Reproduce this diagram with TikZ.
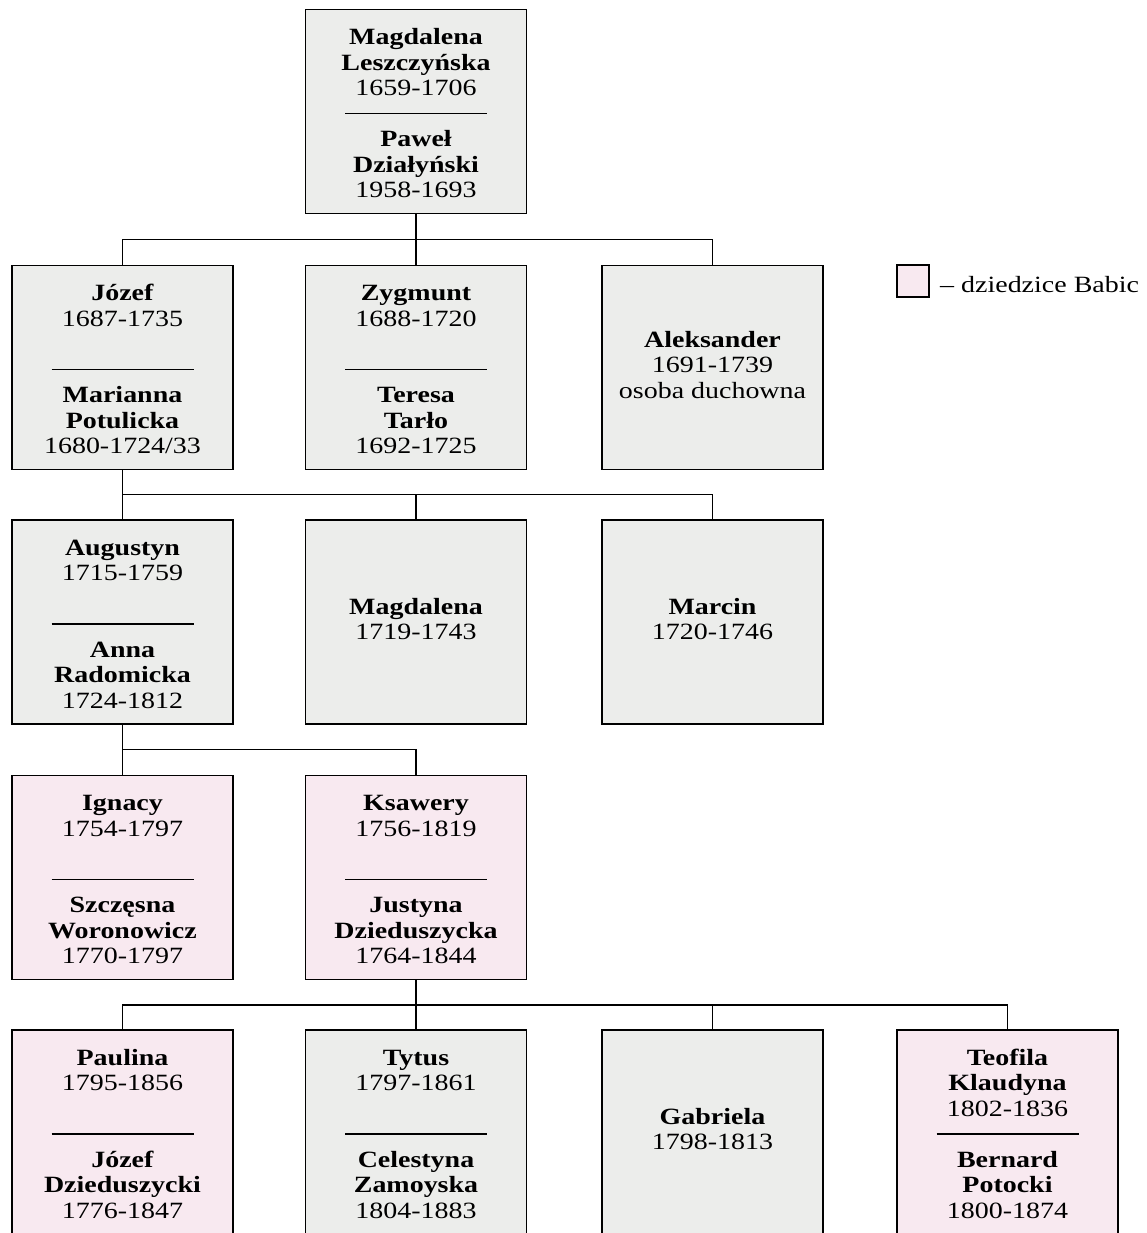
\documentclass[tikz,border=0pt]{standalone}
\usepackage{fontspec}
\setmainfont{Liberation Serif}[FakeStretch=1.2]
\usetikzlibrary{calc}
\definecolor{boxgrey}{HTML}{ECEDEB}
\definecolor{boxpink}{HTML}{F8E9F0}
\tikzset{
  person/.style={draw=black, line width=1.9pt, minimum width=221pt, minimum height=204pt, inner sep=0pt, outer sep=0pt},
  greybox/.style={person, fill=boxgrey},
  pinkbox/.style={person, fill=boxpink},
  txt/.style={align=center, inner sep=0pt, font=\fontsize{23.3}{25.5}\selectfont},
  toptext/.style={txt, anchor=north},
  bottext/.style={txt, anchor=south},
  midtext/.style={txt, anchor=center},
  sepline/.style={line width=1.3pt},
  link/.style={line width=1.8pt},
}
\begin{document}
\begin{tikzpicture}[x=1pt, y=-1pt]
\useasboundingbox (0,0) rectangle (1147,1233);

% ---- boxes ----
\node[greybox] (mag) at (416,111.5) {};
\node[greybox] (joz) at (122.5,367.5) {};
\node[greybox] (zyg) at (416,367.5) {};
\node[greybox] (ale) at (712.5,367.5) {};
\node[greybox] (aug) at (122.5,622) {};
\node[greybox] (mg2) at (416,622) {};
\node[greybox] (mar) at (712.5,622) {};
\node[pinkbox] (ign) at (122.5,877.5) {};
\node[pinkbox] (ksa) at (416,877.5) {};
\node[pinkbox] (pau) at (122.5,1132) {};
\node[greybox] (tyt) at (416,1132) {};
\node[greybox] (gab) at (712.5,1132) {};
\node[pinkbox] (teo) at (1007.5,1132) {};

% ---- texts ----
\node[toptext] (magT) at ($(mag.north)+(0,17)$) {\strut\textbf{Magdalena}\\\textbf{Leszczyńska}\\1659-1706\strut};
\node[bottext] (magB) at ($(mag.south)+(0,-8)$) {\strut\textbf{Paweł}\\\textbf{Działyński}\\1958-1693\strut};

\node[toptext] (jozT) at ($(joz.north)+(0,17)$) {\strut\textbf{Józef}\\1687-1735\strut};
\node[bottext] (jozB) at ($(joz.south)+(0,-8)$) {\strut\textbf{Marianna}\\\textbf{Potulicka}\\1680-1724/33\strut};

\node[toptext] (zygT) at ($(zyg.north)+(0,17)$) {\strut\textbf{Zygmunt}\\1688-1720\strut};
\node[bottext] (zygB) at ($(zyg.south)+(0,-8)$) {\strut\textbf{Teresa}\\\textbf{Tarło}\\1692-1725\strut};

\node[midtext] (aleT) at (ale.center) {\strut\textbf{Aleksander}\\1691-1739\\osoba duchowna\strut};

\node[toptext] (augT) at ($(aug.north)+(0,17)$) {\strut\textbf{Augustyn}\\1715-1759\strut};
\node[bottext] (augB) at ($(aug.south)+(0,-8)$) {\strut\textbf{Anna}\\\textbf{Radomicka}\\1724-1812\strut};

\node[midtext] (mg2T) at (mg2.center) {\strut\textbf{Magdalena}\\1719-1743\strut};
\node[midtext] (marT) at (mar.center) {\strut\textbf{Marcin}\\1720-1746\strut};

\node[toptext] (ignT) at ($(ign.north)+(0,17)$) {\strut\textbf{Ignacy}\\1754-1797\strut};
\node[bottext] (ignB) at ($(ign.south)+(0,-8)$) {\strut\textbf{Szczęsna}\\\textbf{Woronowicz}\\1770-1797\strut};

\node[toptext] (ksaT) at ($(ksa.north)+(0,17)$) {\strut\textbf{Ksawery}\\1756-1819\strut};
\node[bottext] (ksaB) at ($(ksa.south)+(0,-8)$) {\strut\textbf{Justyna}\\\textbf{Dzieduszycka}\\1764-1844\strut};

\node[toptext] (pauT) at ($(pau.north)+(0,17)$) {\strut\textbf{Paulina}\\1795-1856\strut};
\node[bottext] (pauB) at ($(pau.south)+(0,-8)$) {\strut\textbf{Józef}\\\textbf{Dzieduszycki}\\1776-1847\strut};

\node[toptext] (tytT) at ($(tyt.north)+(0,17)$) {\strut\textbf{Tytus}\\1797-1861\strut};
\node[bottext] (tytB) at ($(tyt.south)+(0,-8)$) {\strut\textbf{Celestyna}\\\textbf{Zamoyska}\\1804-1883\strut};

\node[midtext] (gabT) at (gab.center) {\strut\textbf{Gabriela}\\1798-1813\strut};

\node[toptext] (teoT) at ($(teo.north)+(0,17)$) {\strut\textbf{Teofila}\\\textbf{Klaudyna}\\1802-1836\strut};
\node[bottext] (teoB) at ($(teo.south)+(0,-8)$) {\strut\textbf{Bernard}\\\textbf{Potocki}\\1800-1874\strut};

% ---- separators ----
\foreach \b in {mag,joz,zyg,aug,ign,ksa,pau,tyt,teo}{
  \draw[sepline] ($(\b.north)+(-71,104)$) -- ($(\b.north)+(71,104)$);
}

% ---- connectors ----
\draw[link] (mag.south) -- ++(0,26) -| (joz.north);
\draw[link] (mag.south) -- ++(0,26) -| (zyg.north);
\draw[link] (mag.south) -- ++(0,26) -| (ale.north);

\draw[link] (joz.south) -- ++(0,25) -| (aug.north);
\draw[link] (joz.south) -- ++(0,25) -| (mg2.north);
\draw[link] (joz.south) -- ++(0,25) -| (mar.north);

\draw[link] (aug.south) -- ++(0,25.5) -| (ign.north);
\draw[link] (aug.south) -- ++(0,25.5) -| (ksa.north);

\draw[link] (ksa.south) -- ++(0,25.5) -| (pau.north);
\draw[link] (ksa.south) -- ++(0,25.5) -| (tyt.north);
\draw[link] (ksa.south) -- ++(0,25.5) -| (gab.north);
\draw[link] (ksa.south) -- ++(0,25.5) -| (teo.north);

% ---- legend ----
\node[draw=black, line width=1.9pt, fill=boxpink, minimum width=32pt, minimum height=32pt, inner sep=0pt] (leg) at (913,281) {};
\node[anchor=base west, inner sep=0pt, font=\fontsize{23.3}{25.5}\selectfont] (legT) at (940,292) {– dziedzice Babic};
\end{tikzpicture}
\end{document}
